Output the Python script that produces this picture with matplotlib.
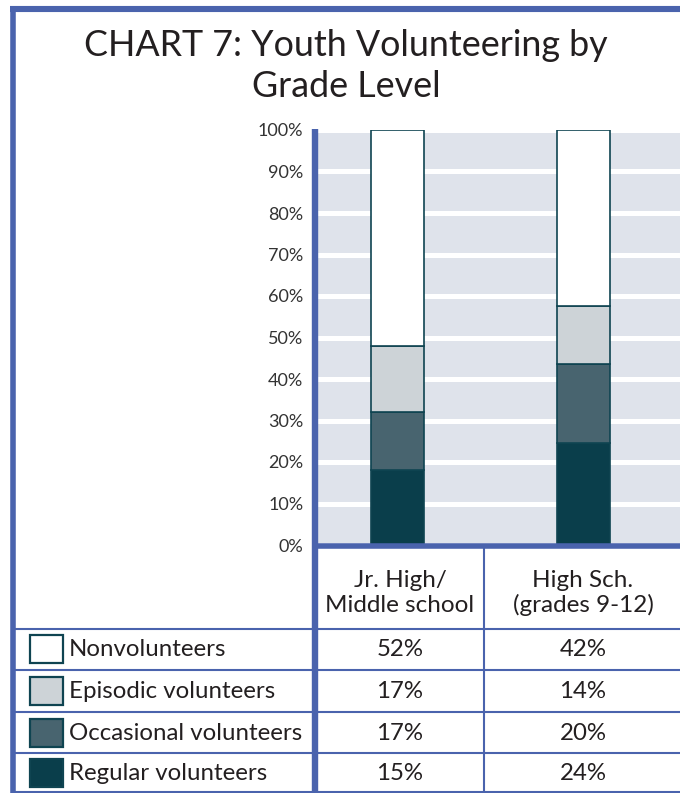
import matplotlib
matplotlib.use('Agg')
import matplotlib.pyplot as plt
from matplotlib.patches import Rectangle
import numpy as np

plt.rcParams['font.family'] = ['Lato', 'DejaVu Sans']

title = 'CHART 7: Youth Volunteering by\nGrade Level'
groups = ['Jr. High/\nMiddle school', 'High Sch.\n(grades 9-12)']
categories = ['Nonvolunteers', 'Episodic volunteers', 'Occasional volunteers', 'Regular volunteers']
# values printed in the table
table_jr = [52, 17, 17, 15]
table_hs = [42, 14, 20, 24]
# segment heights as drawn in the bars (same order as categories)
bar_jr = [52, 16, 14, 18]
bar_hs = [42.5, 14, 19, 24.5]
yticks = np.arange(0, 101, 10)

colors = ['#ffffff', '#cdd3d7', '#48646f', '#0a3e4b']
edge = '#0f4451'
blue = '#4a63ad'
txt = '#231f20'

W, H = 680, 793
fig = plt.figure(figsize=(W / 100, H / 100), dpi=100)


def fx(x):
    return x / W


def fy(y):
    return 1 - y / H


# bar axes
left, right, top, bottom = 314.5, 680, 130, 545
ax = fig.add_axes([fx(left), fy(bottom), fx(right - left), (bottom - top) / H])
ax.set_facecolor('#dfe3eb')
ax.set_xlim(-0.447, 1.518)
ax.set_ylim(0, 100)
ax.set_yticks(yticks)
ax.set_yticklabels([f'{v}%' for v in yticks], fontsize=13, color='#333333')
ax.tick_params(axis='y', length=0, pad=8)
ax.set_xticks([])
ax.yaxis.grid(True, color='white', lw=3.6)
ax.set_axisbelow(True)
for s in ax.spines.values():
    s.set_visible(False)

for i, vals in enumerate([bar_jr, bar_hs]):
    base = 0
    for v, c in zip(vals[::-1], colors[::-1]):
        ax.bar(i, v, bottom=base, width=0.285, color=c, edgecolor=edge, lw=1.2, zorder=3)
        base += v

# overlay for frame, table and text
ov = fig.add_axes([0, 0, 1, 1])
ov.set_zorder(5)
ov.set_xlim(0, W)
ov.set_ylim(H, 0)
ov.axis('off')
ov.patch.set_alpha(0)

# frame
ov.plot([9.5, W], [9, 9], color=blue, lw=4.4, solid_capstyle='butt')
ov.plot([12.5, 12.5], [6, H], color=blue, lw=4.0, solid_capstyle='butt')
# axis lines
ov.plot([314.5, 314.5], [129, H], color=blue, lw=4.6, solid_capstyle='butt')
ov.plot([312, W], [545.5, 545.5], color=blue, lw=4.0, solid_capstyle='butt')
# table lines
for yl in [628.5, 670, 711.7, 753.3, 791.5]:
    ov.plot([14, W], [yl, yl], color=blue, lw=1.5, solid_capstyle='butt')
ov.plot([483.5, 483.5], [548, H], color=blue, lw=1.5, solid_capstyle='butt')

ov.text(346, 66, title, ha='center', va='center', fontsize=25.8, color=txt, linespacing=1.33)

col_x = [400, 583]
for x, g in zip(col_x, groups):
    ov.text(x, 593, g, ha='center', va='center', fontsize=17.5, color=txt, linespacing=1.2)

row_y = [649, 691, 732.5, 772.5]
for yr, cat, c, a, b in zip(row_y, categories, colors, table_jr, table_hs):
    ov.add_patch(Rectangle((29.5, yr - 14), 33, 28, facecolor=c, edgecolor=edge, lw=1.6))
    ov.text(69, yr + 1, cat, ha='left', va='center', fontsize=17.3, color=txt)
    ov.text(col_x[0], yr + 1, f'{a}%', ha='center', va='center', fontsize=17.3, color=txt)
    ov.text(col_x[1], yr + 1, f'{b}%', ha='center', va='center', fontsize=17.3, color=txt)

fig.savefig('out.png', dpi=100, facecolor='white')
